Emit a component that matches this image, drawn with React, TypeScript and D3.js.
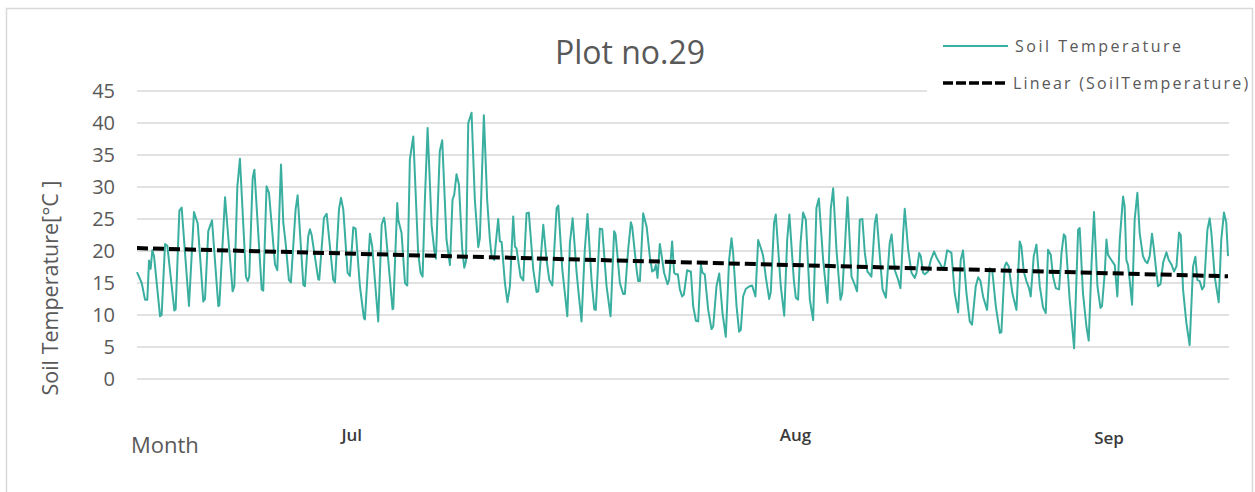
import React from "react";
import * as d3 from "d3";

type Pt = [number, number]; // [days since start, soil temperature °C]

const chartTitle = "Plot no.29";
const yAxisTitle = "Soil Temperature[°C ]";
const xAxisTitle = "Month";
const seriesName = "Soil Temperature";
const trendName = "Linear (SoilTemperature)";
const yTicks = [0, 5, 10, 15, 20, 25, 30, 35, 40, 45];
const monthLabels = ["Jul", "Aug", "Sep"];
const monthLabelDays = [15.0, 46.0, 67.9];
// Linear trendline values at the first and last reading
const trendStartEnd = [20.45, 16.05];

const lateJune: Pt[] = [
  [0, 16.7], [0.33, 15], [0.56, 12.4], [0.72, 12.4], [0.84, 18.5], [0.95, 17.2], [1.07, 20.1], [1.19, 19.2],
  [1.61, 9.8], [1.72, 10], [1.96, 21.1], [2.12, 20.8], [2.61, 10.7], [2.7, 10.9], [2.96, 26.3], [3.12, 26.8],
  [3.63, 11.4], [3.98, 26.1], [4.24, 24.3], [4.63, 12.1], [4.75, 12.5], [4.98, 23.1], [5.24, 24.8], [5.68, 11.4],
  [5.75, 11.5], [6.15, 28.4], [6.68, 13.7], [6.8, 14.5], [7.01, 30.1], [7.19, 34.4], [7.61, 16], [7.73, 15.3],
  [7.84, 16], [8.08, 31.4], [8.2, 32.7], [8.71, 14], [8.82, 13.8], [9.05, 30.1], [9.22, 29.1], [9.64, 17.9],
  [9.8, 17], [10.06, 33.5], [10.22, 24.4], [10.38, 21.3], [10.61, 15.5], [10.75, 15.1], [11.08, 26.5], [11.22, 28.7],
  [11.62, 14.7], [11.73, 14.5], [11.96, 22.3], [12.08, 23.4], [12.2, 22.5], [12.66, 15.6], [12.73, 15.5], [13.06, 25.2],
  [13.25, 25.8], [13.71, 15.5], [13.83, 15.1], [14.11, 26.5], [14.25, 28.3], [14.41, 26.5], [14.71, 16.6], [14.87, 16.1],
];

const earlyJuly: Pt[] = [
  [15.11, 23.7], [15.27, 23.5], [15.57, 14.5], [15.85, 9.5], [15.92, 9.3], [16.27, 22.7], [16.43, 20.7], [16.85, 9],
  [17.09, 24.1], [17.25, 25.2], [17.32, 24.4], [17.85, 10.9], [17.9, 11], [18.18, 27.5], [18.25, 24.9], [18.48, 22.8],
  [18.72, 15], [18.88, 14.6], [19.06, 34.3], [19.3, 37.9], [19.64, 19.7], [19.81, 16.6], [19.95, 16], [20.11, 28],
  [20.3, 39.2], [20.58, 24], [20.76, 20.2], [20.88, 18.8], [21.15, 35.6], [21.32, 37.3], [21.62, 21.8], [21.86, 17.8],
  [22.04, 28], [22.16, 28.8], [22.32, 32], [22.49, 30.4], [22.72, 20.2], [22.86, 17.4], [22.98, 18.4], [23.14, 40],
  [23.37, 41.6], [23.6, 28], [23.84, 20.6], [23.95, 22], [24.23, 41.2], [24.46, 28], [24.65, 21.8], [24.77, 19.2],
  [24.95, 18.6], [25.23, 25], [25.35, 21.5], [25.47, 21.4], [25.7, 15], [25.88, 12], [26.05, 14.5], [26.28, 25.4],
  [26.4, 20.7], [26.51, 20.4], [26.79, 16], [26.98, 15.4], [27.21, 25.9], [27.37, 26], [27.68, 17.1], [27.91, 13.6],
  [28.03, 13.7], [28.38, 24.1], [28.61, 18.6], [28.8, 15.5], [29.01, 14.6], [29.31, 26.7], [29.43, 27.1], [29.71, 17.1],
  [29.89, 13.4],
];

const lateJuly: Pt[] = [
  [30.06, 9.8], [30.24, 21.25], [30.43, 25.1], [30.71, 16.6], [30.87, 12.9], [31.05, 9], [31.28, 20.2], [31.47, 25.8],
  [31.75, 15.5], [31.94, 10.9], [32.05, 10.8], [32.33, 23.5], [32.5, 23.4], [32.8, 14.5], [33.08, 9.8], [33.33, 23.1],
  [33.43, 22.6], [33.73, 15], [33.96, 13.3], [34.08, 13.3], [34.31, 20.2], [34.5, 24.5], [34.59, 23.8], [34.9, 17.1],
  [35.01, 15.3], [35.13, 15.3], [35.36, 25.9], [35.6, 23.8], [35.82, 19.2], [35.99, 16.8], [36.13, 17], [36.24, 17.8],
  [36.36, 15.8], [36.52, 21.1], [36.64, 19.4], [36.82, 16.6], [37.06, 14.8], [37.17, 15.5], [37.38, 21.5], [37.52, 16.6],
  [37.64, 16.35], [37.78, 16.35], [37.92, 14], [38.08, 12.9], [38.2, 13.2], [38.34, 15.5], [38.43, 17], [38.62, 16.8],
  [38.69, 16.8], [38.85, 11.4], [39.04, 9.1], [39.2, 9], [39.39, 17.9], [39.5, 16.6], [39.66, 16.35], [39.9, 10.8],
  [40.13, 7.8], [40.25, 8.2], [40.48, 14.5], [40.67, 16.5], [40.9, 10.3], [41.13, 6.6], [41.36, 18.6], [41.53, 22],
  [41.64, 19.7], [41.88, 11.4], [42.06, 7.4], [42.18, 7.7], [42.34, 12.9], [42.53, 14.1], [42.81, 14.5], [42.97, 14.6],
  [43.2, 12.9], [43.39, 21.7], [43.62, 20.2], [43.74, 19.2], [43.92, 16], [44.16, 12.5], [44.27, 13.5], [44.5, 24.4],
  [44.62, 25.7], [44.97, 14.5], [45.21, 9.9], [45.42, 21.8], [45.57, 25.7], [45.88, 15.5],
];

const earlyAugust: Pt[] = [
  [46.02, 12.7], [46.18, 12.4], [46.35, 21.25], [46.53, 26], [46.72, 24.9], [47, 12.4], [47.23, 9.2], [47.46, 26.7],
  [47.63, 28.2], [47.93, 18.6], [48.23, 11.9], [48.46, 26.5], [48.63, 29.8], [48.86, 20.2], [49.14, 12.4], [49.26, 13.4],
  [49.44, 20.2], [49.63, 28.4], [49.91, 16], [50.09, 15], [50.3, 13.7], [50.49, 24.9], [50.67, 25], [50.84, 19.7],
  [51.02, 16.8], [51.19, 16.35], [51.3, 16], [51.54, 24.4], [51.66, 25.7], [51.89, 19.2], [52.08, 14], [52.31, 12.7],
  [52.58, 21.25], [52.71, 22.6], [52.94, 17], [53.17, 15.5], [53.33, 14.2], [53.52, 22.8], [53.63, 26.6], [53.87, 20.2],
  [54.1, 16.6], [54.33, 15.8], [54.45, 16.6], [54.64, 19.7], [54.75, 19.2], [54.91, 16.6], [55.03, 16.35], [55.26, 16.8],
  [55.45, 18.6], [55.68, 19.9], [55.87, 18.9], [56.08, 18.1], [56.31, 17.1], [56.42, 17.8], [56.59, 20.1], [56.77, 19.9],
  [56.89, 19.7], [57.12, 13.4], [57.36, 10.4], [57.54, 18.6], [57.7, 20.1], [57.94, 13.4], [58.17, 9], [58.33, 8.5],
  [58.59, 14.5], [58.76, 15.9], [58.92, 15.3], [59.1, 12.9], [59.38, 10.8], [59.57, 17.3], [59.75, 16.8], [59.99, 11.4],
  [60.27, 7.2], [60.38, 7.3], [60.61, 17.6], [60.73, 18.2], [60.89, 17.6],
];

const lateAugust: Pt[] = [
  [61.15, 13.4], [61.43, 10.8], [61.66, 21.5], [61.78, 20.7], [61.94, 16.8], [62.13, 15.3], [62.31, 14.2], [62.43, 12.9],
  [62.64, 19.2], [62.83, 21], [63.06, 14.5], [63.29, 11.2], [63.48, 10.3], [63.64, 20.2], [63.83, 19.4], [63.99, 16],
  [64.18, 14.2], [64.41, 14], [64.58, 19.7], [64.74, 22.6], [64.85, 22.3], [65.15, 12.4], [65.46, 4.8], [65.74, 23.3],
  [65.85, 23.6], [66.08, 13.4], [66.32, 8.2], [66.48, 6], [66.67, 17.6], [66.85, 26.1], [67.09, 14.5], [67.3, 11.1],
  [67.41, 11.4], [67.6, 16.6], [67.72, 21.8], [67.83, 19.4], [68.06, 18.6], [68.3, 17.8], [68.48, 12.9], [68.65, 21.8],
  [68.88, 28.5], [68.99, 27], [69.11, 18.6], [69.23, 17.8], [69.34, 15.5], [69.51, 11.6], [69.69, 24.9], [69.88, 29.1],
  [70.04, 22.8], [70.27, 19.2], [70.44, 18.4], [70.58, 18.1], [70.74, 19.2], [70.9, 22.7], [71.04, 20.2], [71.21, 16.6],
  [71.32, 14.5], [71.49, 14.8], [71.68, 18.2], [71.91, 19.8], [72.07, 18.6], [72.26, 17.9], [72.44, 16.8], [72.61, 17.6],
  [72.79, 22.9], [72.91, 22.5], [73.07, 14], [73.3, 8.8], [73.53, 5.3], [73.77, 17.6], [73.93, 19.1], [74.07, 15.5],
  [74.23, 15.3], [74.4, 14], [74.54, 14.5], [74.77, 23.3], [74.93, 25.1], [75.05, 22.8], [75.28, 16], [75.56, 12],
  [75.74, 21.8], [75.93, 26], [76.09, 24.4], [76.21, 19.2],
];

const W = 1255;
const H = 492;
const plot = { left: 137, right: 1229, top: 91, bottom: 379 };
const teal = "#3aafa0";
const textGray = "#595959";
const gridGray = "#d9d9d9";
const font = "'Open Sans', 'Noto Sans', sans-serif";

export default function App() {
  const data: Pt[] = [...lateJune, ...earlyJuly, ...lateJuly, ...earlyAugust, ...lateAugust];
  const xExtent = d3.extent(data, (d) => d[0]) as [number, number];
  const x = d3.scaleLinear().domain(xExtent).range([plot.left, plot.right - 1]);
  const y = d3.scaleLinear().domain([0, 45]).range([plot.bottom, plot.top]);

  const line = d3
    .line<Pt>()
    .x((d) => x(d[0]))
    .y((d) => y(d[1]));

  const trend: Pt[] = [
    [xExtent[0], trendStartEnd[0]],
    [xExtent[1], trendStartEnd[1]],
  ];

  return (
    <svg
      width={W}
      height={H}
      style={{ position: "absolute", left: 0, top: 0, background: "#fff" }}
      fontFamily={font}
    >
      <rect x={6.5} y={8.5} width={1246} height={492} fill="#fff" stroke={gridGray} strokeWidth={1.5} />
      {yTicks.map((t) => (
        <line
          key={"g" + t}
          x1={plot.left}
          x2={t === 45 ? 927 : plot.right}
          y1={y(t)}
          y2={y(t)}
          stroke={gridGray}
          strokeWidth={1.5}
        />
      ))}
      {yTicks.map((t) => (
        <text
          key={"t" + t}
          x={115}
          y={y(t)}
          dy="0.36em"
          textAnchor="end"
          fontSize={20}
          fill={textGray}
        >
          {t}
        </text>
      ))}
      <text
        transform={`translate(58, 288) rotate(-90)`}
        textAnchor="middle"
        fontSize={21.5}
        fill={textGray}
      >
        {yAxisTitle}
      </text>
      <text x={630} y={64} textAnchor="middle" fontSize={32} fill={textGray}>
        {chartTitle}
      </text>
      <text x={131} y={453} fontSize={22} fill={textGray}>
        {xAxisTitle}
      </text>
      {monthLabels.map((m, i) => (
        <text
          key={m}
          x={x(monthLabelDays[i])}
          y={i === 2 ? 444 : 441}
          textAnchor="middle"
          fontSize={17}
          fontWeight={600}
          fill="#3a3a3a"
        >
          {m}
        </text>
      ))}
      <path d={line(data) || ""} fill="none" stroke={teal} strokeWidth={2} strokeLinejoin="round" />
      <path
        d={line(trend) || ""}
        fill="none"
        stroke="#000"
        strokeWidth={4}
        strokeDasharray="11 5"
      />
      <g>
        <line x1={943} x2={1008} y1={46} y2={46} stroke={teal} strokeWidth={2} />
        <text x={1015} y={52} fontSize={16} letterSpacing={2.5} fill={textGray}>
          {seriesName}
        </text>
        <line x1={943} x2={1008} y1={83} y2={83} stroke="#000" strokeWidth={3.5} strokeDasharray="10 3" />
        <text x={1013} y={89} fontSize={16} letterSpacing={2.2} fill={textGray}>
          {trendName}
        </text>
      </g>
    </svg>
  );
}
